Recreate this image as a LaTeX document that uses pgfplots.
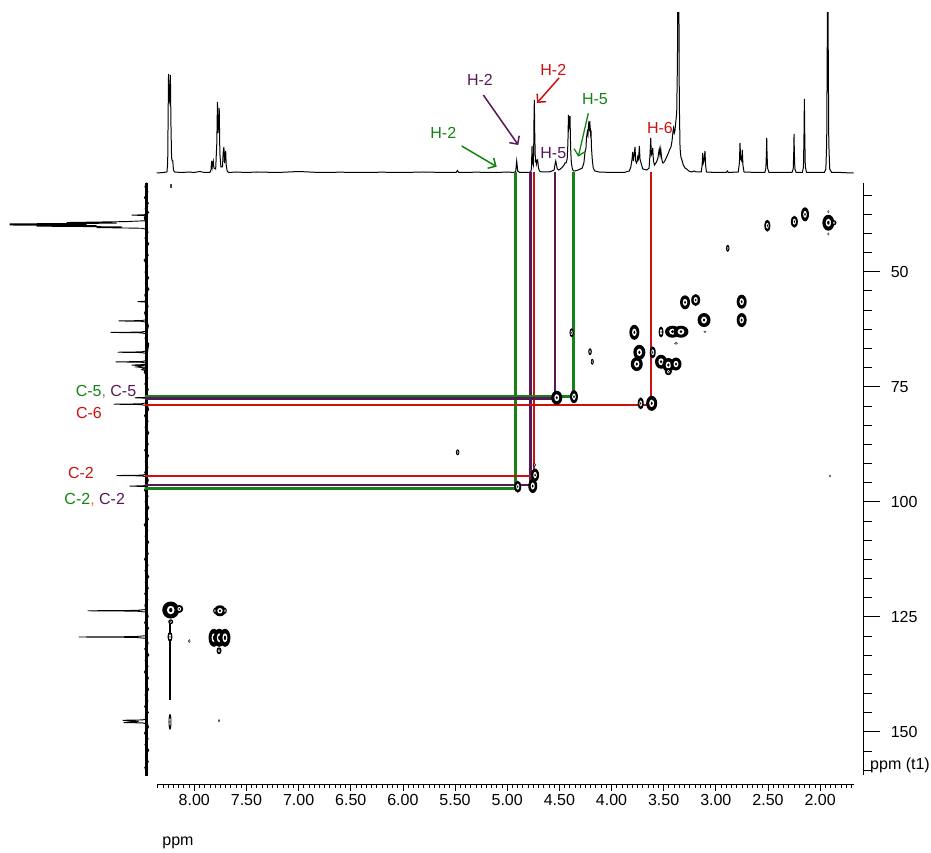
\documentclass[border=0pt]{standalone}
\usepackage{fontspec}
\setmainfont{Liberation Sans}
\usepackage{pgfplots}
\pgfplotsset{compat=1.18}
\usetikzlibrary{arrows.meta}

\definecolor{hgreen}{RGB}{20,130,20}
\definecolor{hpurple}{RGB}{88,24,88}
\definecolor{hred}{RGB}{204,16,16}
\definecolor{horange}{RGB}{230,120,40}
\definecolor{hgray}{RGB}{130,130,130}

% cross peak: filled contour ring with white core and an inner contour
\pgfdeclareplotmark{xpk}{%
  \pgfpathellipse{\pgfpointorigin}{\pgfpoint{\pkw pt}{0pt}}{\pgfpoint{0pt}{\pkh pt}}%
  \pgfsetfillcolor{black}\pgfusepath{fill}%
  \pgfpathellipse{\pgfpointorigin}{\pgfpoint{0.45*\pkw pt}{0pt}}{\pgfpoint{0pt}{0.5*\pkh pt}}%
  \pgfsetfillcolor{white}\pgfusepath{fill}%
  \pgfpathellipse{\pgfpointorigin}{\pgfpoint{0.2*\pkw pt}{0pt}}{\pgfpoint{0pt}{0.25*\pkh pt}}%
  \pgfsetfillcolor{black}\pgfusepath{fill}%
}

\pgfplotsset{
  lbl/.style={font=\fontsize{16}{19}\selectfont},
}

\begin{document}
\begin{tikzpicture}
\useasboundingbox (0,0) rectangle (931pt,852pt);

% ---------- 1H projection (top) ----------
\begin{axis}[at={(156.75pt,677pt)}, anchor=south west, scale only axis,
  width=696.75pt, height=162pt, xmin=1.68, xmax=8.36, x dir=reverse,
  ymin=-2, ymax=160, hide axis]
\addplot[black, line width=1pt] coordinates {
(8.36,0)(8.30,0.5)(8.262,1)(8.255,10)(8.251,55)(8.247,99)(8.242,75)(8.237,72)(8.229,98)(8.224,50)(8.218,16)(8.212,12)(8.206,12)(8.200,3)(8.190,1)(8.120,0.5)(8.05,1)(8.00,0.5)(7.95,1.5)(7.90,0.5)
(7.850,0.5)(7.840,3)(7.834,12)(7.828,6)(7.823,10)(7.818,12)(7.812,5)(7.795,4)(7.784,30)(7.778,71)(7.772,40)(7.766,50)(7.761,65)(7.755,20)(7.745,6)(7.730,6)(7.722,22)(7.716,26)(7.710,10)(7.704,18)(7.699,22)(7.694,8)(7.685,2)(7.670,0.5)
(7.60,1)(7.50,0.5)(7.40,1)(7.20,0.5)(7.00,1.5)(6.80,0.5)(6.60,0.8)(6.40,0.5)(6.20,0.8)(6.00,0.5)(5.80,1)(5.60,0.5)(5.49,0.5)(5.478,2.5)(5.465,0.5)(5.30,0.8)(5.10,0.5)(5.00,1)
(4.93,0.5)(4.918,2)(4.913,8)(4.909,12)(4.905,8)(4.900,2)(4.880,0.5)(4.800,0.5)(4.775,1)(4.768,4)(4.765,15)(4.762,27)(4.758,12)(4.750,8)(4.746,25)(4.743,55)(4.740,73)(4.736,40)(4.730,12)(4.724,13)(4.720,9)(4.714,12)(4.708,13)(4.700,5)(4.690,2)(4.670,1)(4.600,1)(4.570,2)
(4.550,3)(4.541,9)(4.535,12)(4.529,9)(4.520,4)(4.505,3)(4.490,4)(4.470,6)(4.455,8)(4.446,10)(4.435,10)(4.425,14)(4.418,30)(4.413,58)(4.408,45)(4.403,48)(4.398,57)(4.392,25)(4.385,10)(4.375,4)(4.365,2)(4.350,2)(4.320,3)(4.280,5)
(4.265,10)(4.254,21)(4.245,25)(4.240,35)(4.232,41)(4.226,38)(4.220,48)(4.216,52)(4.211,45)(4.206,48)(4.201,40)(4.197,43)(4.192,25)(4.184,13)(4.175,5)(4.160,2)(4.120,1)(4.000,0.5)(3.880,0.5)
(3.830,2)(3.815,6)(3.803,14)(3.797,21)(3.790,12)(3.781,20)(3.775,26)(3.768,12)(3.760,10)(3.753,12)(3.749,16)(3.742,14)(3.737,20)(3.733,27)(3.727,14)(3.717,10)(3.700,4)(3.660,3)
(3.640,5)(3.630,20)(3.624,35)(3.618,18)(3.610,20)(3.605,25)(3.598,12)(3.588,8)(3.575,10)(3.565,12)(3.555,15)(3.546,22)(3.542,24)(3.535,18)(3.528,24)(3.520,15)(3.510,10)(3.503,10)(3.490,12)(3.471,16)(3.455,20)(3.440,24)(3.430,26)(3.420,32)(3.410,42)(3.405,45)(3.398,40)(3.392,42)
(3.385,50)(3.375,60)(3.368,110)(3.363,200)(3.359,230)(3.355,200)(3.350,70)(3.343,25)(3.335,16)(3.325,13)(3.312,8)(3.295,5)(3.279,4)(3.260,2)(3.230,1)(3.210,2)(3.190,1)
(3.140,1)(3.131,8)(3.126,20)(3.120,10)(3.114,12)(3.104,22)(3.098,8)(3.090,1)(3.000,0.5)(2.900,0.5)(2.888,2)(2.880,0.5)
(2.785,1)(2.774,10)(2.768,30)(2.762,14)(2.752,12)(2.746,23)(2.740,8)(2.730,1)(2.600,0.5)
(2.530,0.5)(2.520,5)(2.515,20)(2.512,35)(2.509,20)(2.504,5)(2.490,0.5)(2.400,0.5)
(2.270,0.5)(2.258,4)(2.253,20)(2.250,39)(2.247,20)(2.242,4)(2.230,0.5)
(2.170,0.5)(2.160,6)(2.155,35)(2.151,74)(2.147,35)(2.142,6)(2.130,0.5)(2.000,0.5)
(1.960,0.5)(1.945,4)(1.937,30)(1.932,120)(1.927,230)(1.922,120)(1.917,30)(1.908,4)(1.890,0.5)(1.800,0.5)(1.700,0)(1.660,0)
};
\end{axis}

% ---------- 13C projection (left) ----------
\begin{axis}[at={(6.7pt,77pt)}, anchor=south west, scale only axis,
  width=143pt, height=592.3pt, xmin=-3, xmax=140, x dir=reverse,
  ymin=30.65, ymax=159.4, y dir=reverse, hide axis, clip=false]
\addplot[black, line width=2.6pt] coordinates {(0,30.65)(0,159.6)};
% baseline noise
\addplot[black, line width=1pt] coordinates {
(0,30.8)(1.8,31.5)(-1.2,32.6)(2.2,33.9)(-1.6,35.1)(1.4,36.3)(-1.9,37.1)(2.4,38.2)(-1.3,41.5)(1.7,42.7)(-2.0,43.9)(1.2,45.2)(-1.5,46.4)(2.5,47.5)(-1.1,48.8)(1.6,50.1)(-1.8,51.3)(1.3,52.6)(-2.2,53.8)(1.9,55.0)(-1.4,57.6)(2.1,58.9)(-1.7,61.8)(1.5,64.5)(-2.0,65.7)(2.3,71.9)(-1.2,73.1)(1.8,74.4)(-1.6,75.6)(1.4,76.8)(-1.9,80.0)(2.2,81.3)(-1.3,82.5)(1.6,83.8)(-2.1,85.0)(1.2,86.3)(-1.5,87.5)(2.0,88.8)(-1.8,90.0)(1.4,91.3)(-1.2,92.5)(1.9,93.6)(-1.6,95.3)(2.1,97.5)(-1.4,98.8)(1.5,100.0)(-2.2,101.3)(1.3,102.5)(-1.7,103.8)(2.4,105.0)(-1.1,106.3)(1.6,107.5)(-1.9,108.8)(1.2,110.0)(-1.5,111.3)(2.2,112.5)(-1.3,113.8)(1.7,115.0)(-2.0,116.3)(1.4,117.5)(-1.6,118.8)(2.0,120.0)(-1.2,121.3)(1.8,122.5)(-1.5,125.0)(2.1,126.3)(-1.8,127.5)(1.3,128.5)(-1.4,130.8)(1.9,132.0)(-2.1,133.3)(1.5,134.5)(-1.3,135.8)(2.3,137.0)(-1.7,138.3)(1.2,139.5)(-1.9,140.8)(1.6,142.0)(-1.2,143.3)(2.0,144.5)(-1.6,145.8)(1.4,146.8)(-1.8,149.0)(2.2,150.3)(-1.3,151.5)(1.7,152.8)(-2.0,154.0)(1.3,155.3)(-1.5,156.5)(1.9,157.8)(-1.1,159.0)
};
\addplot[black, line width=0.9pt] coordinates {
(0,30.6)(0,37.4)(3,37.62)(15,37.7)(3,37.78)(0,38.0)
(0,38.9)(20,39.1)(80,39.3)(30,39.45)(137,39.6)(60,39.72)(137,39.85)(50,39.97)(110,40.1)(25,40.25)(50,40.4)(5,40.55)(0,40.8)
(0,56.2)(2,56.42)(9,56.5)(2,56.58)(0,56.8)
(0,60.4)(5,60.62)(28,60.7)(5,60.78)(0,61.0)
(0,62.9)(6,63.12)(36,63.2)(6,63.28)(0,63.5)
(0,67.2)(5,67.42)(29,67.5)(5,67.58)(0,67.8)
(0,69.3)(5,69.52)(31,69.6)(5,69.68)(0,69.9)
(0,70.15)(15,70.3)(3,70.45)(10,70.7)(2,70.9)(5,71.3)(0,71.5)
(0,77.1)(2,77.32)(12,77.4)(2,77.48)(0,77.7)
(0,78.5)(6,78.72)(33,78.8)(6,78.88)(0,79.1)
(0,94.0)(5,94.22)(30,94.3)(5,94.38)(0,94.6)
(0,96.3)(3,96.52)(17,96.6)(3,96.68)(0,96.9)
(0,123.4)(10,123.62)(59,123.7)(10,123.78)(0,124.0)
(0,129.1)(12,129.32)(68,129.4)(12,129.48)(0,129.7)
(0,147.2)(4,147.42)(24,147.5)(8,147.75)(23,148.0)(4,148.08)(0,148.3)(0,159.6)
};
\end{axis}

% ---------- HSQC correlation map ----------
\begin{axis}[at={(156.75pt,77pt)}, anchor=south west, scale only axis,
  width=696.75pt, height=592.3pt, xmin=1.68, xmax=8.36, x dir=reverse,
  ymin=30.65, ymax=159.4, y dir=reverse, hide axis, clip=false]
\addplot[only marks, mark=xpk,
  visualization depends on={value \thisrow{w}\as\pkw},
  visualization depends on={value \thisrow{h}\as\pkh}] table {
dH     dC      w    h
2.506  40.00   3    6
2.247  39.13   3.5  6
2.145  37.52   4    7
1.921  39.35   6    8
1.867  39.35   2.5  2.5
1.921  36.96   1    1.5
1.921  41.80   1    1.5
2.886  44.91   1.8  3.5
3.295  56.65   5    7
3.193  56.15   4.5  6
2.752  56.52   5    7
2.752  60.50   5    7
3.113  60.50   6.5  7
3.104  63.04   1.5  1
3.781  63.17   5    7.5
3.525  63.10   2.5  5.5
3.415  63.04   7.5  6
3.334  63.04   7.5  6
3.382  65.57   1.8  1.2
3.733  67.52   6    7.5
3.605  67.52   3    6
3.758  70.07   6    7
3.525  69.57   6    7
3.455  70.28   6    7
3.382  70.07   5.5  6.5
3.455  71.74   3.5  3.5
3.720  78.61   3    6
3.615  78.61   5.5  7.5
4.382  63.26   2.2  4.5
4.206  67.39   1.8  3.5
4.184  69.57   1.5  3
4.525  77.39   5.5  7
4.360  77.17   4    6.5
5.475  89.26   1.8  3
4.733  94.20   4    6.5
4.740  92.02   1.8  1.8
4.755  96.59   4.5  7
4.899  96.74   3.5  6
8.226  123.54  8.5  8.5
8.144  123.30  4    4
7.754  123.70  6    5.5
7.802  123.70  1.8  3
7.706  123.70  1.8  3
8.226  126.09  2.5  2.5
8.233  129.35  2.5  5
8.048  130.28  1.2  1.8
7.811  129.57  5.5  9
7.760  129.57  5.5  9
7.706  129.57  5.5  9
7.763  132.39  2.5  3.5
8.233  147.83  1.5  8
7.763  147.60  1    1.5
8.223  31.37   1    2
1.905  94.40   0.8  1.5
};
% F1 noise streak below the aromatic cross peak
\addplot[black, line width=1.2pt] coordinates {(8.233,126.5)(8.233,143)};
% assignment guides
\addplot[hgreen, line width=3pt, line join=miter] coordinates {(8.473,97.09)(4.916,97.09)(4.916,28.33)};
\addplot[hpurple, line width=2.4pt, line join=miter] coordinates {(8.473,96.37)(4.775,96.37)(4.775,28.33)};
\addplot[hred, line width=2pt, line join=miter] coordinates {(8.473,94.41)(4.740,94.41)(4.740,28.33)};
\addplot[hgreen, line width=3pt, line join=miter] coordinates {(8.473,77.02)(4.360,77.02)(4.360,28.33)};
\addplot[hpurple, line width=2.4pt, line join=miter] coordinates {(8.473,77.52)(4.542,77.52)(4.542,28.33)};
\addplot[hred, line width=2pt, line join=miter] coordinates {(8.473,78.98)(3.621,78.98)(3.621,28.33)};
\end{axis}

% ---------- F2 scale ----------
\begin{axis}[at={(156.75pt,68pt)}, anchor=south west, scale only axis,
  width=696.75pt, height=10pt, xmin=1.68, xmax=8.36, x dir=reverse,
  ymin=0, ymax=1, axis x line=bottom, axis y line=none,
  x axis line style={-, line width=0.8pt},
  tick align=outside, major tick length=7pt, minor tick length=4pt,
  tick style={black, line width=0.8pt},
  xtick={2,2.5,...,8},
  xticklabels={2.00,2.50,3.00,3.50,4.00,4.50,5.00,5.50,6.00,6.50,7.00,7.50,8.00},
  minor xtick={1.70,1.75,...,8.36},
  xticklabel style={lbl}]
\addplot[draw=none] coordinates {(5,0.5)};
\end{axis}

% ---------- F1 scale ----------
\begin{axis}[at={(853.5pt,77pt)}, anchor=south west, scale only axis,
  width=9.8pt, height=592.3pt, xmin=0, xmax=1,
  ymin=30.65, ymax=159.4, y dir=reverse, axis y line=right, axis x line=none,
  y axis line style={-, line width=0.8pt},
  tick align=outside, major tick length=17pt, minor tick length=9pt,
  tick style={black, line width=0.8pt},
  ytick={50,75,100,125,150},
  yticklabels={50,75,100,125,150},
  minor ytick={33.3333,37.5,...,158.4},
  yticklabel style={lbl, xshift=7pt}]
\addplot[draw=none] coordinates {(0.5,100)};
\end{axis}

% ---------- annotations ----------
\begin{scope}[x=1pt, y=-1pt, yshift=852pt, font=\fontsize{16}{19}\selectfont]
\node[text=hpurple] at (480,80) {H-2};
\draw[hpurple, line width=1.5pt, -{Straight Barb[length=6pt,width=12pt]}] (483.3,95) -- (518.3,145);
\node[text=hgreen] at (443.3,133.3) {H-2};
\draw[hgreen, line width=1.5pt, -{Straight Barb[length=6pt,width=12pt]}] (461.7,146) -- (496.7,166.7);
\node[text=hred] at (553.3,70) {H-2};
\draw[hred, line width=1.5pt, -{Straight Barb[length=6pt,width=12pt]}] (559,78) -- (537,103);
\node[text=hgreen] at (595,99.3) {H-5};
\draw[hgreen, line width=1.3pt, -{Straight Barb[length=6pt,width=12pt]}] (588.3,113.3) -- (578.3,156.7);
\node[text=hpurple] at (553.3,153.3) {H-5};
\node[text=hred] at (660,128.3) {H-6};

\node at (106,391.7) {\textcolor{hgreen}{C-5}\textcolor{hgray}{,} \textcolor{hpurple}{C-5}};
\node[text=hred] at (89,413.3) {C-6};
\node[text=hred] at (81,473.3) {C-2};
\node at (94.7,500) {\textcolor{hgreen}{C-2}\textcolor{horange}{,} \textcolor{hpurple}{C-2}};

\node at (178,843) {ppm};
\node[anchor=west, inner sep=0pt] at (870,765) {ppm (t1)};
\end{scope}
\end{tikzpicture}
\end{document}
